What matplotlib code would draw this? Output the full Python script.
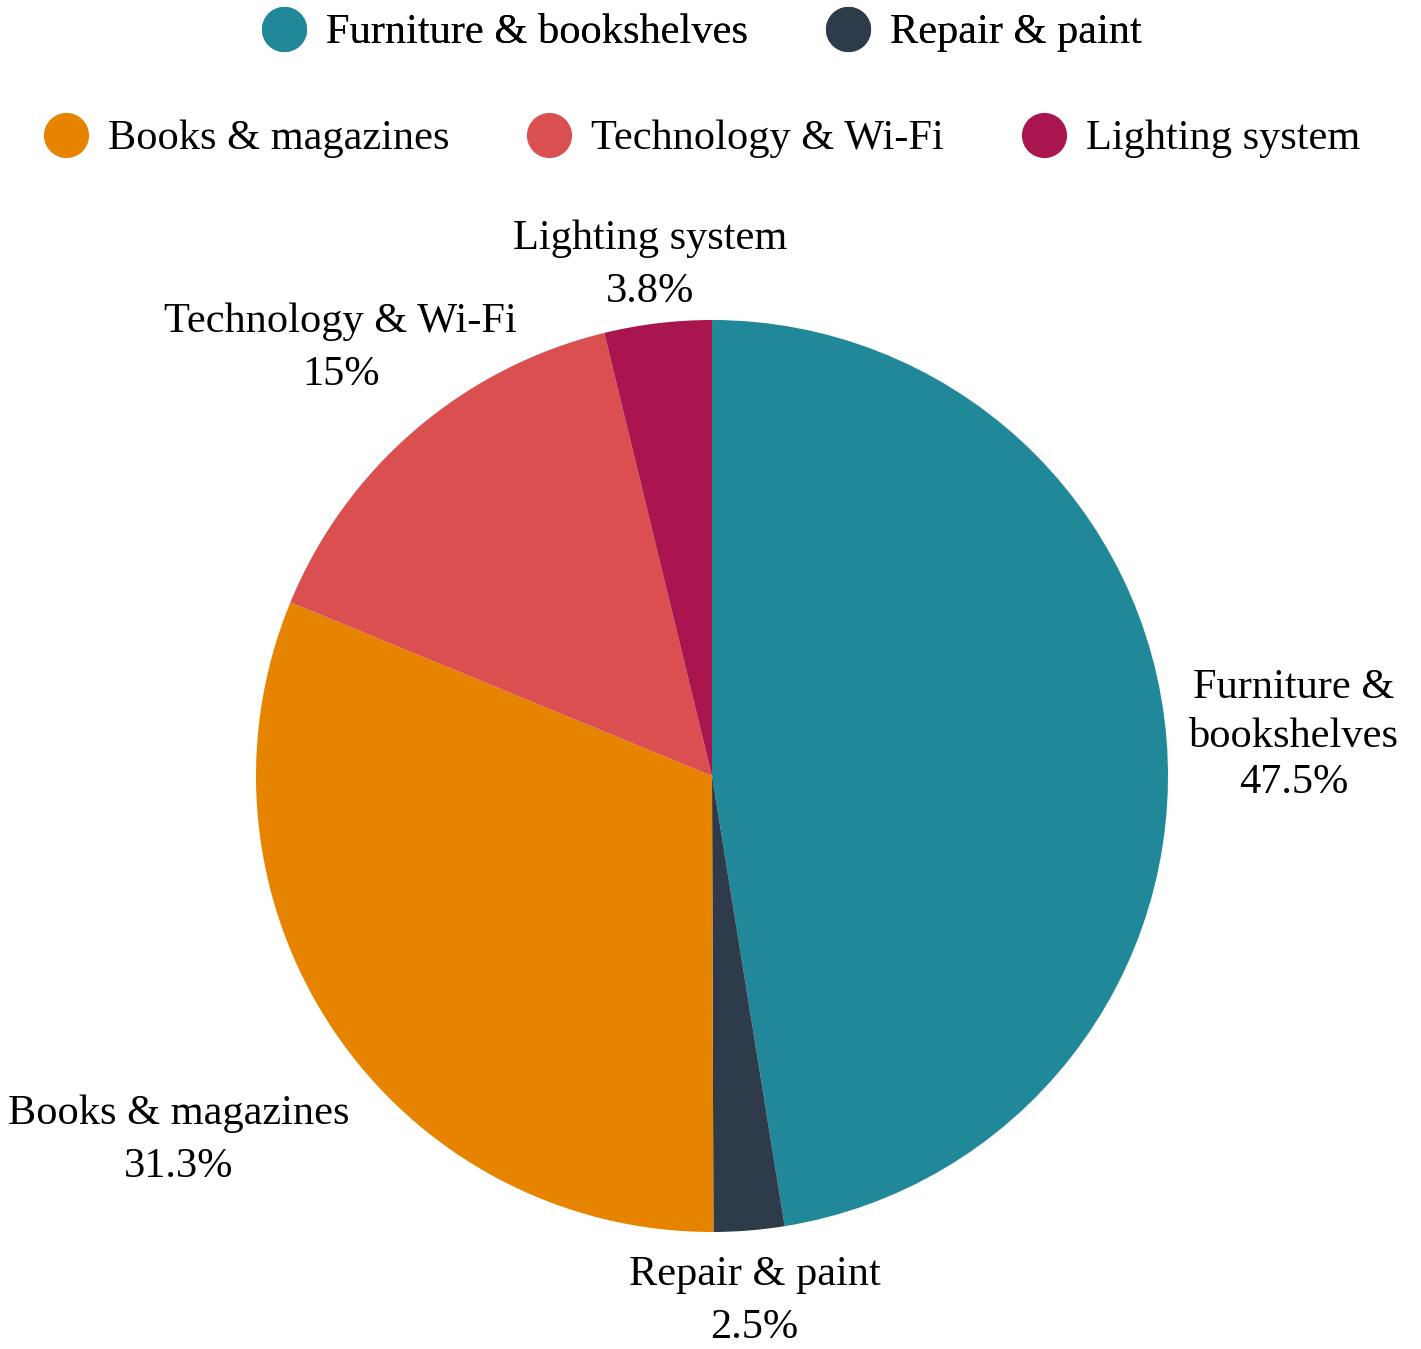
import numpy as np
import matplotlib
matplotlib.use('Agg')
import matplotlib.pyplot as plt
from matplotlib.lines import Line2D

plt.rcParams['font.family'] = ['Liberation Serif', 'DejaVu Serif']

# data
categories = ['Furniture & bookshelves', 'Repair & paint', 'Books & magazines',
              'Technology & Wi-Fi', 'Lighting system']
slice_labels = ['Furniture &\nbookshelves', 'Repair & paint', 'Books & magazines',
                'Technology & Wi-Fi', 'Lighting system']
shares = [47.5, 2.5, 31.3, 15, 3.8]
pct_text = ['47.5%', '2.5%', '31.3%', '15%', '3.8%']
colors = ['#21889A', '#2E3B4A', '#E68400', '#DA4F4F', '#A8154F']

# label block distance from the centre, per slice (in radii)
label_dist = [1.28, 1.145, 1.41, 1.25, 1.14]

FS = 30.5
W, H = 1421, 1349
fig = plt.figure(figsize=(W / 100, H / 100), dpi=100)

cx, cy, r = 712, 1349 - 776, 456
ax = fig.add_axes([(cx - r) / W, (cy - r) / H, 2 * r / W, 2 * r / H])
wedges, _ = ax.pie(shares, colors=colors, startangle=90, counterclock=False,
                   radius=1, wedgeprops=dict(linewidth=0))
ax.set_xlim(-1, 1)
ax.set_ylim(-1, 1)
ax.set_aspect('equal')
ax.axis('off')

px = 0.72  # points per pixel at 100 dpi
for w, lab, pct, d in zip(wedges, slice_labels, pct_text, label_dist):
    ang = np.deg2rad((w.theta1 + w.theta2) / 2)
    xy = (d * np.cos(ang), d * np.sin(ang))
    nl = lab.count('\n')
    drop = 42 + nl * 22   # percent baseline below block centre, px
    gap = 53 - nl * 7     # name baseline to percent baseline, px
    ax.annotate(pct, xy, xytext=(0, -drop * px), textcoords='offset points',
                ha='center', va='baseline', fontsize=FS, annotation_clip=False)
    ax.annotate(lab, xy, xytext=(0, (gap - drop - 9) * px),
                textcoords='offset points', ha='center', va='bottom',
                fontsize=FS, linespacing=1.36, multialignment='center',
                annotation_clip=False)

# legend in two centred rows
def handle(c):
    return Line2D([], [], marker='o', linestyle='none', markersize=31.5,
                  markerfacecolor=c, markeredgecolor=c)

handles = [handle(c) for c in colors]
row1 = [0, 1]
row2 = [2, 3, 4]
opts = dict(loc='center', frameon=False, fontsize=FS, handletextpad=0.47,
            columnspacing=1.84, handlelength=1.04, borderpad=0, borderaxespad=0)
leg1 = fig.legend([handles[i] for i in row1], [categories[i] for i in row1],
                  bbox_to_anchor=(702 / W, 1 - 33 / H), ncol=2, **opts)
leg2 = fig.legend([handles[i] for i in row2], [categories[i] for i in row2],
                  bbox_to_anchor=(702 / W, 1 - 139 / H), ncol=3, **opts)
fig.add_artist(leg1)

fig.savefig('out.png', dpi=100)
